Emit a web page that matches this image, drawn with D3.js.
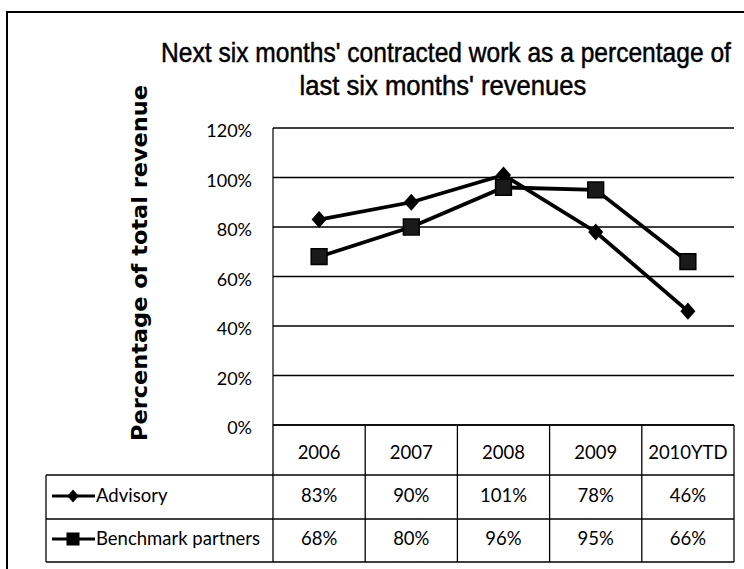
<!DOCTYPE html>
<html>
<head>
<meta charset="utf-8">
<title>Contracted work chart</title>
<script src="https://d3js.org/d3.v7.min.js"></script>
<style>
  body { margin: 0; background: #fff; }
  svg { display: block; }
</style>
</head>
<body>
<div id="chart"></div>
<script>
// data
var years = ["2006", "2007", "2008", "2009", "2010YTD"];
var advisory = [83, 90, 101, 78, 46];
var benchmark = [68, 80, 96, 95, 66];
var seriesNames = ["Advisory", "Benchmark partners"];
var yTicks = [0, 20, 40, 60, 80, 100, 120];
var titleLines = ["Next six months' contracted work as a percentage of", "last six months' revenues"];

var W = 744, H = 569;
var plot = { left: 273, right: 734, top: 128, bottom: 425 };
var tableLeft = 46, rowLines = [425, 475, 519, 562];

var titleFont = "'Liberation Sans', Arial, sans-serif";
var tickFont = "Lato, 'Open Sans', sans-serif";

// diamond a bit squatter than d3's own
var flatDiamond = {
  draw: function(ctx, size) {
    var h = Math.sqrt(size) * 0.62, w = h * 0.88;
    ctx.moveTo(0, -h); ctx.lineTo(w, 0); ctx.lineTo(0, h); ctx.lineTo(-w, 0); ctx.closePath();
  }
};

var svg = d3.select("#chart").append("svg")
    .attr("width", W)
    .attr("height", H);

// scanned frame
svg.append("path")
    .attr("d", "M7,569V12H744")
    .attr("fill", "none")
    .attr("stroke", "#000")
    .attr("stroke-width", 2);

var x = d3.scaleBand().domain(years).range([plot.left, plot.right]);
var y = d3.scaleLinear().domain([0, 120]).range([plot.bottom, plot.top]);
var cx = function(i) { return x(years[i]) + x.bandwidth() / 2; };

// gridlines
svg.append("g").selectAll("line")
    .data(yTicks)
  .enter().append("line")
    .attr("x1", plot.left).attr("x2", plot.right)
    .attr("y1", function(d) { return y(d); })
    .attr("y2", function(d) { return y(d); })
    .attr("stroke", "#000")
    .attr("stroke-width", 1.5);

svg.append("line")
    .attr("x1", plot.left).attr("x2", plot.left)
    .attr("y1", plot.top).attr("y2", plot.bottom)
    .attr("stroke", "#000").attr("stroke-width", 1.2);

// y axis labels
var yAxis = d3.axisLeft(y).tickValues(yTicks)
    .tickFormat(function(d) { return d + "%"; })
    .tickSize(0).tickPadding(21);
var ya = svg.append("g")
    .attr("transform", "translate(" + plot.left + ",3)")
    .call(yAxis);
ya.select(".domain").remove();
ya.selectAll("text")
    .attr("font-family", tickFont)
    .attr("font-size", 18)
    .attr("fill", "#000");

// axis title
svg.append("text")
    .attr("transform", "translate(147,263) rotate(-90)")
    .attr("text-anchor", "middle")
    .attr("font-family", "'DejaVu Sans', Verdana, sans-serif")
    .attr("font-weight", "bold")
    .attr("font-size", 22)
    .attr("textLength", 356)
    .attr("lengthAdjust", "spacingAndGlyphs")
    .text("Percentage of total revenue");

// chart title: narrow face is not installed, so squeeze Liberation Sans to the width seen
var titleSpots = [{ x: 446, y: 62, w: 570 }, { x: 443, y: 95, w: 287 }];
titleLines.forEach(function(s, i) {
  var spot = titleSpots[i];
  var t = svg.append("text")
      .attr("text-anchor", "middle")
      .attr("font-family", titleFont)
      .attr("font-size", 28)
      .attr("fill", "#000")
      .attr("stroke", "#000")
      .attr("stroke-width", 0.5)
      .text(s);
  var k = spot.w / t.node().getComputedTextLength();
  t.attr("transform", "translate(" + spot.x + "," + spot.y + ") scale(" + k + ",1)");
});

// lines
var line = d3.line()
    .x(function(d, i) { return cx(i); })
    .y(function(d) { return y(d); });

[advisory, benchmark].forEach(function(vals) {
  svg.append("path")
      .datum(vals)
      .attr("d", line)
      .attr("fill", "none")
      .attr("stroke", "#000")
      .attr("stroke-width", 3.8);
});

svg.append("g").selectAll("path")
    .data(advisory)
  .enter().append("path")
    .attr("d", d3.symbol().type(flatDiamond).size(190))
    .attr("transform", function(d, i) { return "translate(" + cx(i) + "," + y(d) + ")"; })
    .attr("fill", "#000");

svg.append("g").selectAll("path")
    .data(benchmark)
  .enter().append("path")
    .attr("d", d3.symbol().type(d3.symbolSquare).size(250))
    .attr("transform", function(d, i) { return "translate(" + cx(i) + "," + y(d) + ")"; })
    .attr("fill", "#1a1a1a")
    .attr("stroke", "#000")
    .attr("stroke-width", 1.5);

// data table
var tbl = svg.append("g")
    .attr("stroke", "#000")
    .attr("stroke-width", 1.3);

rowLines.forEach(function(ry, i) {
  tbl.append("line")
      .attr("x1", i === 0 ? plot.left : tableLeft).attr("x2", plot.right)
      .attr("y1", ry).attr("y2", ry);
});
years.forEach(function(yr) {
  tbl.append("line")
      .attr("x1", x(yr)).attr("x2", x(yr))
      .attr("y1", rowLines[0]).attr("y2", rowLines[3]);
});
tbl.append("line")
    .attr("x1", plot.right).attr("x2", plot.right)
    .attr("y1", rowLines[0]).attr("y2", rowLines[3]);
tbl.append("line")
    .attr("x1", tableLeft).attr("x2", tableLeft)
    .attr("y1", rowLines[1]).attr("y2", rowLines[3]);

function cellText(tx, ty, s, anchor) {
  svg.append("text")
      .attr("x", tx).attr("y", ty)
      .attr("text-anchor", anchor || "middle")
      .attr("font-family", tickFont)
      .attr("font-size", 18.5)
      .attr("fill", "#000")
      .text(s);
}

years.forEach(function(yr, i) { cellText(cx(i), 459, yr); });
advisory.forEach(function(v, i) { cellText(cx(i), 502, v + "%"); });
benchmark.forEach(function(v, i) { cellText(cx(i), 545, v + "%"); });

// legend keys inside the table
var keyY = [496, 539];
seriesNames.forEach(function(name, i) {
  svg.append("line")
      .attr("x1", 52).attr("x2", 95)
      .attr("y1", keyY[i]).attr("y2", keyY[i])
      .attr("stroke", "#000").attr("stroke-width", 3);
  svg.append("path")
      .attr("d", i === 0 ? d3.symbol().type(flatDiamond).size(110)
                         : d3.symbol().type(d3.symbolSquare).size(170))
      .attr("transform", "translate(73," + keyY[i] + ")")
      .attr("fill", "#000");
  cellText(96, keyY[i] + 6, name, "start");
});
</script>
</body>
</html>
